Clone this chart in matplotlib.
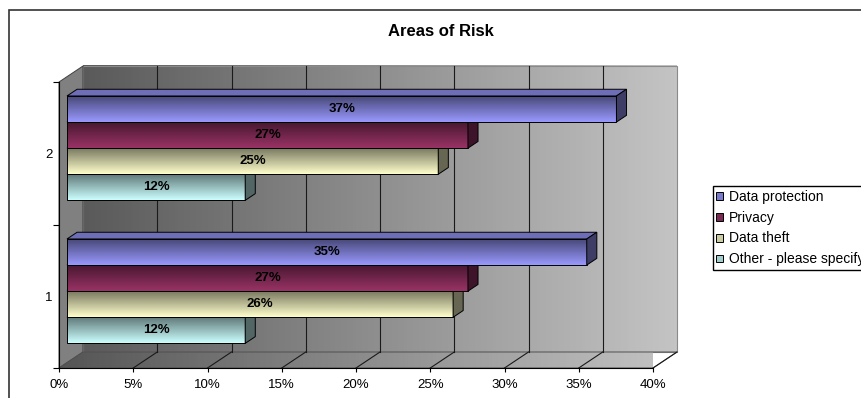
import numpy as np
import matplotlib
matplotlib.use('Agg')
import matplotlib.pyplot as plt
from matplotlib.patches import Polygon, Patch, Rectangle
from matplotlib.colors import to_rgb
from matplotlib.ticker import PercentFormatter

categories = ['1', '2']
series = ['Data protection', 'Privacy', 'Data theft', 'Other - please specify']
data_protection = [0.35, 0.37]
privacy = [0.27, 0.27]
data_theft = [0.26, 0.25]
other = [0.12, 0.12]
colors = ['#9999FF', '#993366', '#FFFFCC', '#CCFFFF']
x_ticks = [0, 0.05, 0.10, 0.15, 0.20, 0.25, 0.30, 0.35, 0.40]

values = [data_protection, privacy, data_theft, other]

plt.rcParams['font.family'] = ['Liberation Sans', 'DejaVu Sans']

fig = plt.figure(figsize=(8.61, 3.98), dpi=100)
ax = fig.add_axes([59 / 861, 30 / 398, 594 / 861, 286 / 398])
xmax = x_ticks[-1]
ncat = len(categories)

# depth of the 3d box in data units (about 24 px right, 16 px up)
DX = 24 / 594 * xmax
DY = 16 / 286 * ncat
bar_front = 1 / 3      # bars start a third of the way into the box
bar_depth = 0.42
bar_h = 0.73 / len(series)


def shade(color, f):
    return tuple(np.clip(np.array(to_rgb(color)) * f, 0, 1))


def gradient(extent, c0, c1, horizontal, zorder, clip=None):
    t = np.linspace(0, 1, 200)[:, None]
    rgb = np.array(to_rgb(c0)) * (1 - t) + np.array(to_rgb(c1)) * t
    img = rgb[None, :, :] if horizontal else rgb[:, None, :]
    kw = dict(extent=extent, origin='lower', aspect='auto',
              interpolation='nearest', zorder=zorder)
    if clip is not None:
        kw['clip_path'] = clip
    im = ax.imshow(img, **kw)
    if clip is None:
        im.set_clip_on(False)
    return im


# back wall
gradient((DX, xmax + DX, DY, ncat + DY), '#5a5a5a', '#c4c4c4', True, 0.5)
ax.add_patch(Polygon([(DX, DY), (xmax + DX, DY), (xmax + DX, ncat + DY), (DX, ncat + DY)],
                     fill=False, edgecolor='#8a8a8a', lw=0.8, clip_on=False, zorder=0.6))

# left wall
ax.add_patch(Polygon([(0, 0), (DX, DY), (DX, ncat + DY), (0, ncat)],
                     facecolor='#808080', edgecolor='#404040', lw=0.7,
                     clip_on=False, zorder=0.7))

# floor
floor = Polygon([(0, 0), (xmax, 0), (xmax + DX, DY), (DX, DY)], transform=ax.transData)
gradient((0, xmax + DX, 0, DY), '#555555', '#c4c4c4', True, 0.8, clip=floor)
ax.add_patch(Polygon([(0, 0), (xmax, 0), (xmax + DX, DY), (DX, DY)],
                     fill=False, edgecolor='#505050', lw=0.7, clip_on=False, zorder=0.9))

# gridlines on the back wall and the floor
for t in x_ticks[1:-1]:
    ax.plot([t + DX, t + DX], [DY, ncat + DY], color='#1a1a1a', lw=0.8,
            clip_on=False, zorder=1)
for t in x_ticks[1:]:
    ax.plot([t, t + DX], [0, DY], color='#1a1a1a', lw=0.8, clip_on=False, zorder=1)

# bars, drawn bottom to top so upper bars cover the faces below them
z = 2
x0 = bar_front * DX
bx, by = bar_depth * DX, bar_depth * DY
for i, cat in enumerate(categories):
    group_top = i + 0.5 + bar_front * DY + bar_h * len(series) / 2
    for j in reversed(range(len(series))):
        v = values[j][i]
        c = colors[j]
        y1 = group_top - j * bar_h
        y0 = y1 - bar_h
        x1 = v + x0
        gradient((x0, x1, y0, y1), c, shade(c, 0.45), False, z)
        ax.add_patch(Rectangle((x0, y0), x1 - x0, y1 - y0, fill=False,
                               edgecolor='black', lw=0.7, zorder=z + 0.1))
        ax.add_patch(Polygon([(x0, y1), (x1, y1), (x1 + bx, y1 + by), (x0 + bx, y1 + by)],
                             facecolor=shade(c, 0.72), edgecolor='black', lw=0.7,
                             clip_on=False, zorder=z + 0.2))
        ax.add_patch(Polygon([(x1, y0), (x1 + bx, y0 + by), (x1 + bx, y1 + by), (x1, y1)],
                             facecolor=shade(c, 0.4), edgecolor='black', lw=0.7,
                             clip_on=False, zorder=z + 0.3))
        ax.text(x0 + v / 2, (y0 + y1) / 2, f'{v:.0%}', ha='center', va='center',
                fontsize=9.5, fontweight='bold', zorder=50)
        z += 1

ax.set_xlim(0, xmax)
ax.set_ylim(0, ncat)
ax.set_facecolor('none')
for s in ['top', 'right']:
    ax.spines[s].set_visible(False)
for s in ['left', 'bottom']:
    ax.spines[s].set_color('black')
    ax.spines[s].set_linewidth(0.8)
    ax.spines[s].set_zorder(60)

ax.set_xticks(x_ticks)
ax.xaxis.set_major_formatter(PercentFormatter(1.0, decimals=0))
ax.tick_params(axis='x', direction='out', length=3, width=0.8, labelsize=9.5, pad=5)
ax.set_yticks([i + 0.5 for i in range(ncat)])
ax.set_yticklabels(categories)
ax.set_yticks(range(ncat + 1), minor=True)
ax.tick_params(axis='y', which='major', length=0, labelsize=9.5, pad=4.5)
ax.tick_params(axis='y', which='minor', direction='out', length=4, width=0.8)

fig.text(441 / 861, 1 - 32 / 398, 'Areas of Risk', ha='center', va='center',
         fontsize=12, fontweight='bold')

# chart frame
fig.patches.append(Rectangle((9 / 861, -0.1), 2, 1 - 10 / 398 + 0.1, transform=fig.transFigure,
                             fill=False, edgecolor='#333333', lw=1.2))

# legend runs past the right edge of the frame, as in the original sheet
handles = [Patch(facecolor=shade(c, 0.8), edgecolor='black', lw=0.7) for c in colors]
fig.legend(handles, series, loc='upper left', bbox_to_anchor=(712.5 / 861, 1 - 186 / 398),
           bbox_transform=fig.transFigure, fontsize=10, frameon=True, fancybox=False,
           edgecolor='black', framealpha=1, borderpad=0.26, handlelength=0.5,
           handleheight=0.5, handletextpad=0.45, labelspacing=0.5, borderaxespad=0)

fig.savefig('out.png', dpi=100)
